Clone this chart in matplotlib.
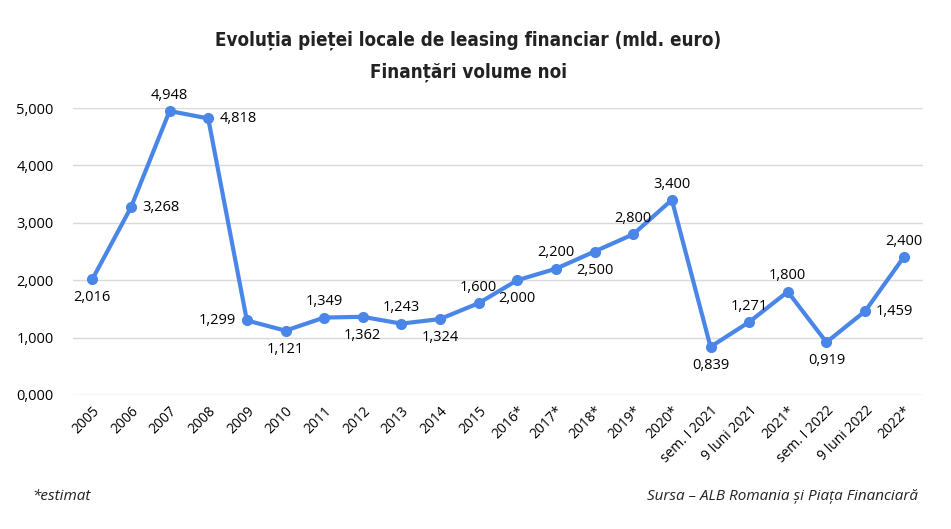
import matplotlib
matplotlib.use("Agg")
import matplotlib.pyplot as plt

categories = ["2005", "2006", "2007", "2008", "2009", "2010", "2011", "2012", "2013", "2014",
              "2015", "2016*", "2017*", "2018*", "2019*", "2020*", "sem. I 2021", "9 luni 2021",
              "2021*", "sem. I 2022", "9 luni 2022", "2022*"]
values = [2.016, 3.268, 4.948, 4.818, 1.299, 1.121, 1.349, 1.362, 1.243, 1.324,
          1.600, 2.000, 2.200, 2.500, 2.800, 3.400, 0.839, 1.271,
          1.800, 0.919, 1.459, 2.400]
label_pos = ["below", "right", "above", "right", "left", "below", "above", "below", "above", "below",
             "above", "below", "above", "below", "above", "above", "below", "above",
             "above", "below", "right", "above"]
yticks = [0, 1, 2, 3, 4, 5]

def fmt(v):
    return f"{v:.3f}".replace(".", ",")

plt.rcParams['font.family'] = ['Open Sans', 'DejaVu Sans']

fig = plt.figure(figsize=(9.51, 5.29), dpi=100)
ax = fig.add_axes([73/951, 1-395/529, 850/951, (395-108)/529])
color = "#4a86e8"
x = list(range(len(values)))
ax.plot(x, values, color=color, lw=3, marker="o", ms=7, clip_on=False, zorder=3)
ax.set_xlim(-0.5, len(values) - 0.5)
ax.set_ylim(0, 5)
ax.set_yticks(yticks)
ax.set_yticklabels([fmt(t) for t in yticks], fontsize=10.5)
ax.set_xticks(x)
ax.set_xticklabels(categories, rotation=45, ha="right", va="top", rotation_mode="anchor", fontsize=10)
ax.grid(axis="y", color="#d9d9d9", lw=1)
ax.set_axisbelow(True)
for s in ax.spines.values():
    s.set_visible(False)
ax.tick_params(length=0)
ax.tick_params(axis="y", pad=14)
ax.tick_params(axis="x", pad=6)

offsets = {"above": (0, 6, "center", "bottom"), "below": (0, -8, "center", "top"),
           "right": (8, 0, "left", "center"), "left": (-8, 0, "right", "center")}
for xi, v, p in zip(x, values, label_pos):
    dx, dy, ha, va = offsets[p]
    ax.annotate(fmt(v), (xi, v), xytext=(dx, dy), textcoords="offset points",
                ha=ha, va=va, fontsize=10.5, color="#000000")

title_kw = dict(ha="center", va="center", fontsize=13.5, fontweight="bold", fontstretch="condensed",
                family=["DejaVu Sans"], color="#222222")
fig.text(468/951, 1-40/529, "Evoluția pieței locale de leasing financiar (mld. euro)", **title_kw)
fig.text(468/951, 1-72/529, "Finanțări volume noi", **title_kw)
fig.text(32/951, 1-497/529, "*estimat", ha="left", va="center", fontsize=11, style="italic",
         color="#222222")
fig.text(918/951, 1-497/529, "Sursa – ALB Romania și Piața Financiară", ha="right", va="center",
         fontsize=11, style="italic", color="#222222")

fig.savefig("out.png", dpi=100)
